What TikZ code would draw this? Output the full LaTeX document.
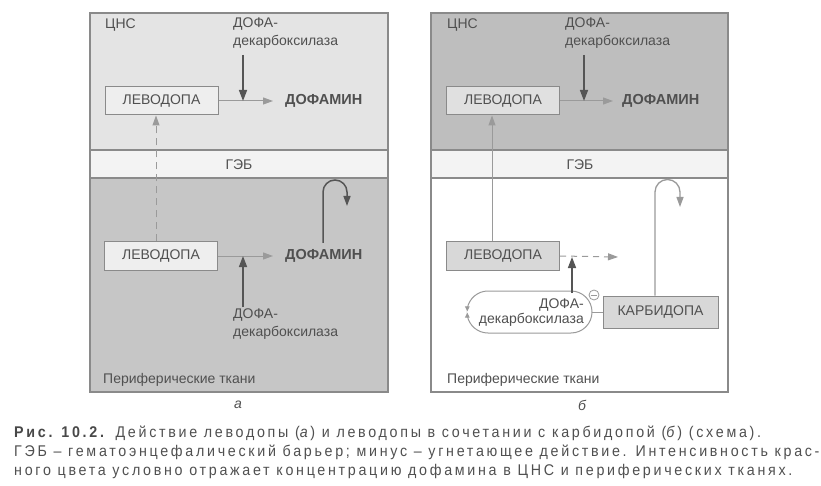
\documentclass[tikz,border=0pt]{standalone}
\usepackage{fontspec}
\setmainfont{Liberation Sans}
\newfontfamily\capfont[FakeStretch=0.92,LetterSpace=17.5]{Liberation Sans}
\usetikzlibrary{arrows.meta}
\definecolor{cnsA}{HTML}{E4E4E4}
\definecolor{gebC}{HTML}{F3F3F3}
\definecolor{perA}{HTML}{C6C6C6}
\definecolor{cnsB}{HTML}{BEBEBE}
\definecolor{bord}{HTML}{8A8A8A}
\definecolor{txt}{HTML}{505050}
\definecolor{dark}{HTML}{555555}
\definecolor{light}{HTML}{9A9A9A}
\definecolor{boxA}{HTML}{EEEEEE}
\definecolor{boxB}{HTML}{D8D8D8}
\begin{document}
\begin{tikzpicture}[x=1pt,y=-1pt,
  panel/.style={draw=bord,line width=1.2pt},
  lbl/.style={inner sep=0pt,text=txt,font=\fontsize{14}{18}\selectfont},
  dopa/.style={inner sep=0pt,text=txt,font=\fontsize{14.5}{18}\selectfont\bfseries},
  levbox/.style={draw=bord,line width=1pt,minimum width=113pt,minimum height=28pt,inner sep=0pt,text=txt,font=\fontsize{14}{18}\selectfont},
  darkarrow/.style={draw=dark,line width=1.5pt,-{Triangle[length=11pt,width=8pt]}},
  lightarrow/.style={draw=light,line width=1pt,-{Triangle[length=10pt,width=7pt]}},
  dasharrow/.style={draw=light,line width=1pt,dashed,dash pattern=on 7pt off 5pt,-{Triangle[length=10pt,width=7pt]}},
  capt/.style={inner sep=0pt,anchor=base west,text=txt,font=\capfont\fontsize{15.5}{19}\selectfont}
]
\useasboundingbox (0,0) rectangle (821,486);
\fill[white] (0,0) rectangle (821,486);

% ---------------- panel a ----------------
\draw[panel,fill=cnsA] (90,13) rectangle (388,150);
\draw[panel,fill=gebC] (90,150) rectangle (388,178);
\draw[panel,fill=perA] (90,178) rectangle (388,392);

\node[lbl,anchor=west] (cnsa) at (105,25) {ЦНС};
\node[lbl,anchor=center] (geba) at (239,165) {ГЭБ};
\node[lbl,anchor=west] (pera) at (103,380) {Периферические ткани};

\node[lbl,anchor=north west,align=left] (enzA1) at (233,18) {ДОФА-\\декарбоксилаза};
\node[levbox,fill=boxA] (levA1) at (161.5,101) {ЛЕВОДОПА};
\node[dopa,anchor=west] (dofA1) at (285,101) {ДОФАМИН};
\coordinate (a1end) at (273,101);
\coordinate (a1top) at (243,55);
\coordinate (a1mid) at (243,101);
\draw[lightarrow] (levA1.east) -- (a1end);
\draw[darkarrow] (a1top) -- (a1mid);

\node[levbox,fill=boxA] (levA2) at (161,256) {ЛЕВОДОПА};
\node[dopa,anchor=west] (dofA2) at (285,256) {ДОФАМИН};
\node[lbl,anchor=north west,align=left] (enzA2) at (233,309) {ДОФА-\\декарбоксилаза};
\coordinate (a2end) at (273,256);
\coordinate (a2bot) at (243,307);
\coordinate (a2mid) at (243,256);
\draw[lightarrow] (levA2.east) -- (a2end);
\draw[darkarrow] (a2bot) -- (a2mid);
\coordinate (a2up) at (156,242);
\coordinate (a2dn) at (156,115);
\draw[dasharrow] (levA2.north -| a2up) -- (levA1.south -| a2dn);
\coordinate (loopA) at (323,243);
\draw[draw=dark,line width=1.5pt,-{Triangle[length=10pt,width=7pt]}]
  (loopA) -- (323,192) arc[start angle=180,end angle=360,radius=12] -- (347,206);

\node[inner sep=0pt,text=txt,font=\fontsize{14}{18}\selectfont\itshape] (capa) at (238,405) {а};

% ---------------- panel b ----------------
\draw[panel,fill=cnsB] (431,13) rectangle (728,150);
\draw[panel,fill=gebC] (431,150) rectangle (728,178);
\draw[panel,fill=white] (431,178) rectangle (728,392);

\node[lbl,anchor=west] (cnsb) at (447,25) {ЦНС};
\node[lbl,anchor=center] (gebb) at (580,165) {ГЭБ};
\node[lbl,anchor=west] (perb) at (447,380) {Периферические ткани};

\node[lbl,anchor=north west,align=left] (enzB1) at (565,18) {ДОФА-\\декарбоксилаза};
\node[levbox,fill=boxA!94!black] (levB1) at (503,101) {ЛЕВОДОПА};
\node[dopa,anchor=west] (dofB1) at (622,101) {ДОФАМИН};
\coordinate (b1end) at (613,101);
\coordinate (b1top) at (584,55);
\coordinate (b1mid) at (584,101);
\draw[lightarrow] (levB1.east) -- (b1end);
\draw[darkarrow] (b1top) -- (b1mid);

\node[levbox,fill=boxB] (levB2) at (503,256) {ЛЕВОДОПА};
\coordinate (b2x) at (492,0);
\draw[lightarrow] (levB2.north -| b2x) -- (levB1.south -| b2x);
\coordinate (b2end) at (618,257);
\draw[dasharrow,dash pattern=on 6pt off 5pt] (levB2.east) -- (b2end);

% pill of decarboxylase
\coordinate (pillR) at (592,312);
\draw[draw=light,line width=1pt,-{Triangle[length=5pt,width=4.5pt]}]
  (pillR) arc[start angle=0,end angle=-90,radius=21] -- (488,291)
  arc[start angle=-90,end angle=-170,radius=21] -- ++(0,3);
\draw[draw=light,line width=1pt,-{Triangle[length=5pt,width=4.5pt]}]
  (pillR) arc[start angle=0,end angle=90,radius=21] -- (488,333)
  arc[start angle=90,end angle=170,radius=21] -- ++(0,-3);
\node[inner sep=0pt,anchor=east,align=right,text=txt,font=\fontsize{14}{15}\selectfont] (enzB2) at (584,312.5) {ДОФА-\\декарбоксилаза};
\coordinate (b2bot) at (572,293);
\coordinate (b2mid) at (572,257);
\draw[darkarrow] (b2bot) -- (b2mid);

\node[draw=light,line width=0.8pt,circle,minimum size=10pt,inner sep=0pt] (minus) at (594,295) {};
\draw[draw=light,line width=0.8pt] ([xshift=2pt]minus.west) -- ([xshift=-2pt]minus.east);

\node[levbox,fill=boxB,minimum width=115pt,minimum height=32pt] (carb) at (660.5,312) {КАРБИДОПА};
\draw[draw=light,line width=1pt] (pillR) -- (carb.west);
\coordinate (cx) at (655,0);
\draw[draw=light,line width=1.3pt,-{Triangle[length=10pt,width=7pt]}]
  (carb.north -| cx) -- (655,192) arc[start angle=180,end angle=360,radius=12.5] -- (680,207);

\node[inner sep=0pt,text=txt,font=\fontsize{14}{18}\selectfont\itshape] (capb) at (582,405) {б};

% ---------------- caption ----------------
\node[capt] (c1) at (14,437) {\textcolor{dark!85!black}{\textbf{Рис. 10.2.}} Действие леводопы (\textit{а}) и леводопы в сочетании с карбидопой (\textit{б}) (схема).};
\node[capt] (c2) at (14,456) {ГЭБ – гематоэнцефалический барьер; минус – угнетающее действие. Интенсивность крас-};
\node[capt] (c3) at (14,475) {ного цвета условно отражает концентрацию дофамина в ЦНС и периферических тканях.};
\end{tikzpicture}
\end{document}
